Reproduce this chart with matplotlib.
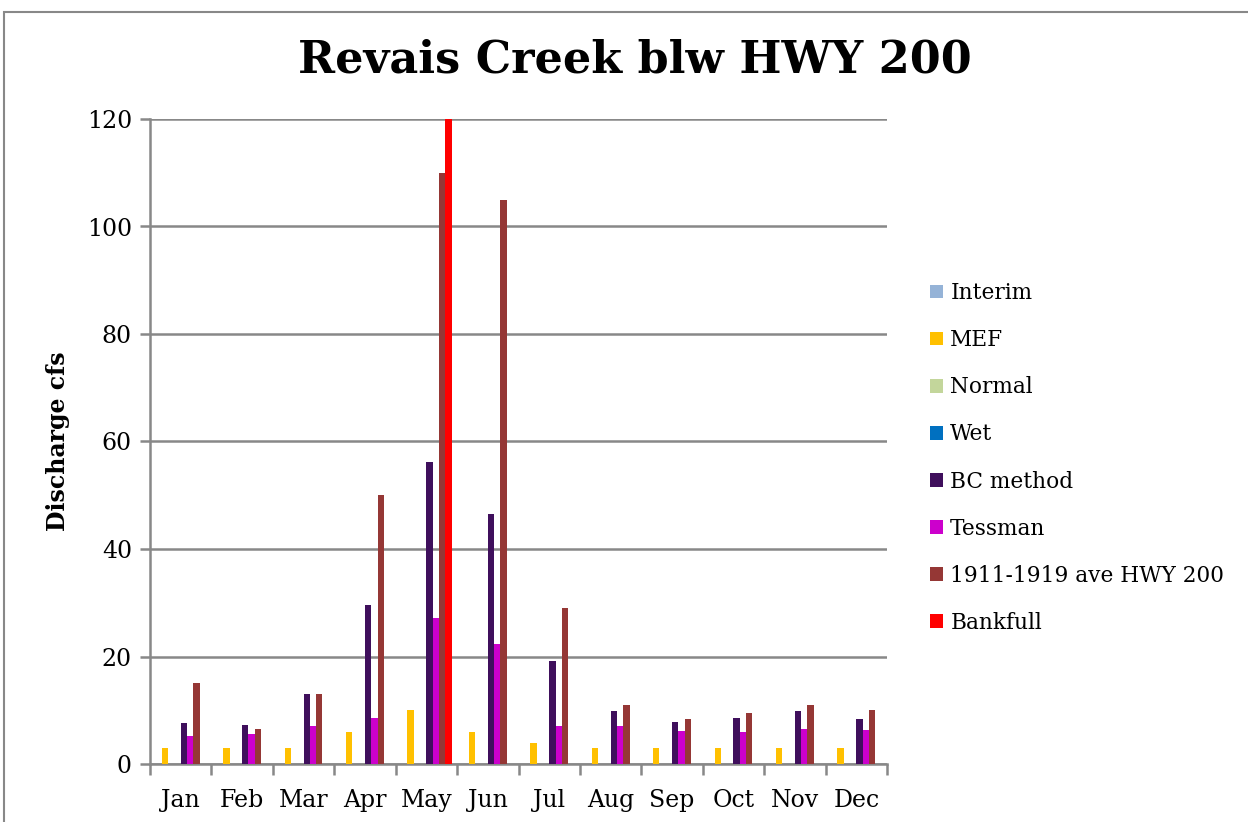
import numpy as np
import matplotlib
matplotlib.use('Agg')
import matplotlib.pyplot as plt
from matplotlib.patches import Rectangle

months = ['Jan', 'Feb', 'Mar', 'Apr', 'May', 'Jun', 'Jul', 'Aug', 'Sep', 'Oct', 'Nov', 'Dec']

interim = [0, 0, 0, 0, 0, 0, 0, 0, 0, 0, 0, 0]
mef = [3, 3, 3, 6, 10, 6, 4, 3, 3, 3, 3, 3]
normal = [0, 0, 0, 0, 0, 0, 0, 0, 0, 0, 0, 0]
wet = [0, 0, 0, 0, 0, 0, 0, 0, 0, 0, 0, 0]
bc_method = [7.6, 7.2, 13, 29.5, 56.2, 46.5, 19.1, 9.8, 7.9, 8.5, 9.8, 8.3]
tessman = [5.3, 5.5, 7.0, 8.6, 27.1, 22.3, 7.1, 7.1, 6.1, 6.0, 6.6, 6.3]
ave_1911 = [15, 6.5, 13, 50, 110, 105, 29, 11, 8.3, 9.5, 11, 10]
bankfull = [0, 0, 0, 0, 120, 0, 0, 0, 0, 0, 0, 0]

series = [
  ('Interim', interim, '#95b3d7'),
  ('MEF', mef, '#ffc000'),
  ('Normal', normal, '#c3d69b'),
  ('Wet', wet, '#0070c0'),
  ('BC method', bc_method, '#3f0f5c'),
  ('Tessman', tessman, '#cc00cc'),
  ('1911-1919 ave HWY 200', ave_1911, '#953735'),
  ('Bankfull', bankfull, '#ff0000'),
]

plt.rcParams['font.family'] = ['DejaVu Serif']

fig = plt.figure(figsize=(12.48, 8.22), dpi=100)
ax = fig.add_axes([150/1248, 1 - 764/822, 737/1248, (764 - 119)/822])

x = np.arange(len(months))
n = len(series)
w = 0.82 / n
for i, (name, vals, col) in enumerate(series):
  ax.bar(x - 0.41 + w*(i + 0.5), vals, width=w, color=col, label=name, zorder=3)

ax.set_xlim(-0.5, 11.5)
ax.set_ylim(0, 120)
ax.set_yticks(range(0, 121, 20))
ax.grid(axis='y', color='#888888', linewidth=1.8, zorder=0)
ax.set_axisbelow(True)

ax.set_xticks(x)
ax.set_xticklabels(months, fontsize=17)
ax.set_xticks(np.arange(-0.5, 12, 1), minor=True)
ax.tick_params(axis='x', which='major', length=0, pad=18)
ax.tick_params(axis='x', which='minor', length=8, width=1.8, color='#888888')
ax.tick_params(axis='y', length=7, width=1.8, color='#888888', labelsize=17, pad=6)

for s in ['top', 'right']:
  ax.spines[s].set_visible(False)
for s in ['left', 'bottom']:
  ax.spines[s].set_color('#888888')
  ax.spines[s].set_linewidth(1.8)

ax.set_ylabel('Discharge cfs', fontsize=17, fontweight='bold', labelpad=12)
fig.text(0.509, 0.927, 'Revais Creek blw HWY 200', ha='center', va='center',
         fontsize=32, fontweight='bold')

ax.legend(loc='center left', bbox_to_anchor=(921/1248, 1 - 458/822), bbox_transform=fig.transFigure,
          frameon=False, fontsize=15.6, handlelength=0.6, handleheight=0.6,
          handletextpad=0.35, labelspacing=1.16, borderaxespad=0)

fig.patches.append(Rectangle((4/1248, -0.1), 1.2, 1 - 12/822 + 0.1, transform=fig.transFigure,
                             fill=False, edgecolor='#888888', linewidth=1.5))

plt.savefig('out.png', dpi=100)
